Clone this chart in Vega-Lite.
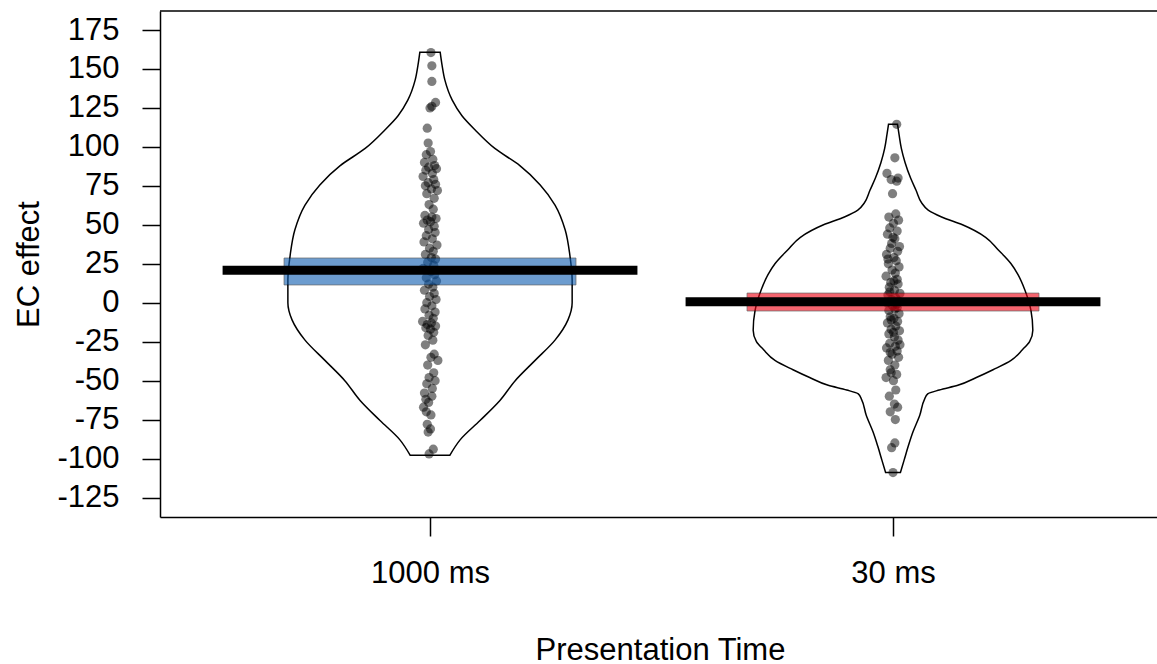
{
  "$schema": "https://vega.github.io/schema/vega-lite/v6.json",
  "autosize": "none",
  "padding": {"left": 160, "top": 11, "right": 0, "bottom": 147},
  "width": 997,
  "height": 506,
  "background": "white",
  "config": {
    "font": "Liberation Sans",
    "view": {"stroke": null},
    "axis": {"labelFont": "Liberation Sans", "labelFontSize": 31, "labelColor": "black", "titleFont": "Liberation Sans", "titleFontSize": 31, "titleFontWeight": "normal", "titleColor": "black", "tickColor": "black", "tickWidth": 1.5, "grid": false, "domain": true, "domainColor": "black", "domainWidth": 1.5}
  },
  "datasets": {
    "frame": [{"top": 187.2}],
    "pts": [
      {"g":1,"v":160.5,"j":0.002},{"g":1,"v":152,"j":0.004},{"g":1,"v":142,"j":0.004},{"g":1,"v":128.5,"j":0.012},{"g":1,"v":126,"j":0.004},{"g":1,"v":125,"j":0},{"g":1,"v":112,"j":-0.006},{"g":1,"v":102.5,"j":-0.004},{"g":1,"v":97,"j":0.001},{"g":1,"v":95,"j":-0.008},{"g":1,"v":92,"j":0.006},{"g":1,"v":90,"j":-0.012},{"g":1,"v":88,"j":0.010},{"g":1,"v":87,"j":-0.003},{"g":1,"v":86,"j":0.014},{"g":1,"v":85,"j":-0.009},{"g":1,"v":83,"j":0.005},{"g":1,"v":81,"j":-0.015},{"g":1,"v":79,"j":0.008},{"g":1,"v":77,"j":-0.004},{"g":1,"v":76,"j":0.012},{"g":1,"v":75,"j":-0.010},{"g":1,"v":73,"j":0.003},{"g":1,"v":72,"j":0.016},{"g":1,"v":70,"j":-0.007},{"g":1,"v":67,"j":0.009},{"g":1,"v":63,"j":-0.002},{"g":1,"v":60,"j":0.007},{"g":1,"v":56,"j":-0.011},{"g":1,"v":55,"j":0.004},{"g":1,"v":54,"j":0.013},{"g":1,"v":53,"j":-0.006},{"g":1,"v":52,"j":0.001},{"g":1,"v":51,"j":-0.014},{"g":1,"v":49,"j":0.009},{"g":1,"v":47,"j":-0.003},{"g":1,"v":45,"j":0.011},{"g":1,"v":43,"j":-0.008},{"g":1,"v":41,"j":0.005},{"g":1,"v":39,"j":-0.013},{"g":1,"v":37,"j":0.015},{"g":1,"v":35,"j":-0.001},{"g":1,"v":33,"j":0.007},{"g":1,"v":31,"j":-0.010},{"g":1,"v":29,"j":0.003},{"g":1,"v":28,"j":0.012},{"g":1,"v":26,"j":-0.005},{"g":1,"v":24,"j":0.008},{"g":1,"v":22,"j":-0.015},{"g":1,"v":20,"j":0.002},{"g":1,"v":18,"j":0.010},{"g":1,"v":16,"j":-0.008},{"g":1,"v":14,"j":0.014},{"g":1,"v":12,"j":-0.003},{"g":1,"v":10,"j":0.006},{"g":1,"v":8,"j":-0.012},{"g":1,"v":6,"j":0.009},{"g":1,"v":4,"j":-0.001},{"g":1,"v":2,"j":0.013},{"g":1,"v":0,"j":-0.007},{"g":1,"v":-2,"j":0.004},{"g":1,"v":-4,"j":-0.011},{"g":1,"v":-6,"j":0.011},{"g":1,"v":-8,"j":-0.002},{"g":1,"v":-10,"j":0.007},{"g":1,"v":-12,"j":-0.016},{"g":1,"v":-13,"j":0.003},{"g":1,"v":-14,"j":-0.006},{"g":1,"v":-15,"j":0.012},{"g":1,"v":-16,"j":-0.009},{"g":1,"v":-17,"j":0.001},{"g":1,"v":-19,"j":0.008},{"g":1,"v":-21,"j":-0.004},{"g":1,"v":-24,"j":0.006},{"g":1,"v":-27,"j":-0.010},{"g":1,"v":-33,"j":0.009},{"g":1,"v":-35,"j":0.002},{"g":1,"v":-37,"j":0.017},{"g":1,"v":-40,"j":-0.005},{"g":1,"v":-45,"j":0.008},{"g":1,"v":-48,"j":-0.002},{"g":1,"v":-50,"j":0.011},{"g":1,"v":-52,"j":-0.007},{"g":1,"v":-55,"j":0.005},{"g":1,"v":-58,"j":-0.012},{"g":1,"v":-60,"j":0.004},{"g":1,"v":-62,"j":-0.009},{"g":1,"v":-64,"j":-0.003},{"g":1,"v":-67,"j":-0.014},{"g":1,"v":-70,"j":-0.008},{"g":1,"v":-72,"j":0.002},{"g":1,"v":-78,"j":-0.006},{"g":1,"v":-81,"j":0.001},{"g":1,"v":-83,"j":-0.004},{"g":1,"v":-94,"j":0.007},{"g":1,"v":-97,"j":-0.002},
      {"g":2,"v":114.5,"j":0.008},{"g":2,"v":93,"j":0.004},{"g":2,"v":83,"j":-0.013},{"g":2,"v":80,"j":0.011},{"g":2,"v":79,"j":-0.004},{"g":2,"v":78,"j":0.008},{"g":2,"v":70,"j":-0.001},{"g":2,"v":57,"j":0.006},{"g":2,"v":55,"j":-0.009},{"g":2,"v":53,"j":0.012},{"g":2,"v":51,"j":0.001},{"g":2,"v":48,"j":-0.007},{"g":2,"v":46,"j":0.009},{"g":2,"v":44,"j":-0.012},{"g":2,"v":42,"j":0.0},{"g":2,"v":41,"j":0.004},{"g":2,"v":38,"j":-0.003},{"g":2,"v":36,"j":0.014},{"g":2,"v":35,"j":-0.006},{"g":2,"v":33,"j":0.010},{"g":2,"v":31,"j":-0.014},{"g":2,"v":29,"j":0.002},{"g":2,"v":28,"j":-0.011},{"g":2,"v":27,"j":0.007},{"g":2,"v":25,"j":-0.010},{"g":2,"v":23,"j":0.013},{"g":2,"v":21,"j":-0.002},{"g":2,"v":19,"j":0.005},{"g":2,"v":17,"j":-0.015},{"g":2,"v":15,"j":0.009},{"g":2,"v":14,"j":0.002},{"g":2,"v":13,"j":-0.005},{"g":2,"v":12,"j":0.011},{"g":2,"v":10,"j":-0.008},{"g":2,"v":8,"j":0.003},{"g":2,"v":7,"j":-0.007},{"g":2,"v":6,"j":0.015},{"g":2,"v":5,"j":-0.011},{"g":2,"v":3,"j":0.006},{"g":2,"v":2,"j":-0.003},{"g":2,"v":1,"j":0.012},{"g":2,"v":0,"j":-0.013},{"g":2,"v":-1,"j":0.008},{"g":2,"v":-2,"j":-0.001},{"g":2,"v":-3,"j":0.009},{"g":2,"v":-4,"j":0.004},{"g":2,"v":-5,"j":-0.009},{"g":2,"v":-7,"j":0.013},{"g":2,"v":-9,"j":-0.006},{"g":2,"v":-10,"j":0.002},{"g":2,"v":-11,"j":-0.004},{"g":2,"v":-12,"j":0.010},{"g":2,"v":-13,"j":-0.012},{"g":2,"v":-15,"j":0.006},{"g":2,"v":-17,"j":-0.004},{"g":2,"v":-18,"j":0.014},{"g":2,"v":-19,"j":0.001},{"g":2,"v":-20,"j":-0.009},{"g":2,"v":-22,"j":0.003},{"g":2,"v":-24,"j":0.011},{"g":2,"v":-26,"j":-0.007},{"g":2,"v":-27,"j":0.015},{"g":2,"v":-28,"j":0.005},{"g":2,"v":-29,"j":-0.014},{"g":2,"v":-31,"j":0.009},{"g":2,"v":-32,"j":-0.006},{"g":2,"v":-33,"j":-0.002},{"g":2,"v":-35,"j":0.012},{"g":2,"v":-37,"j":-0.010},{"g":2,"v":-40,"j":0.004},{"g":2,"v":-43,"j":-0.006},{"g":2,"v":-45,"j":-0.004},{"g":2,"v":-46,"j":0.008},{"g":2,"v":-48,"j":-0.015},{"g":2,"v":-50,"j":0.001},{"g":2,"v":-56,"j":0.006},{"g":2,"v":-60,"j":-0.008},{"g":2,"v":-65,"j":0.003},{"g":2,"v":-67,"j":0.010},{"g":2,"v":-70,"j":-0.006},{"g":2,"v":-75,"j":0.005},{"g":2,"v":-90,"j":0.004},{"g":2,"v":-93,"j":-0.003},{"g":2,"v":-109,"j":0.0}
    ],
    "bean": [
      {"g":1,"v":160.7,"w":0.022},{"g":1,"v":152.5,"w":0.026},{"g":1,"v":143,"w":0.032},{"g":1,"v":130,"w":0.048},{"g":1,"v":120,"w":0.069},{"g":1,"v":111,"w":0.097},{"g":1,"v":99,"w":0.140},{"g":1,"v":88,"w":0.194},{"g":1,"v":75.6,"w":0.238},{"g":1,"v":62.7,"w":0.270},{"g":1,"v":46.7,"w":0.292},{"g":1,"v":30.6,"w":0.302},{"g":1,"v":14.6,"w":0.307},{"g":1,"v":0,"w":0.307},{"g":1,"v":-11,"w":0.298},{"g":1,"v":-24,"w":0.270},{"g":1,"v":-37,"w":0.227},{"g":1,"v":-50,"w":0.184},{"g":1,"v":-62.7,"w":0.151},{"g":1,"v":-75.6,"w":0.108},{"g":1,"v":-88,"w":0.065},{"g":1,"v":-97.8,"w":0.043},
      {"g":2,"v":114.5,"w":0.0097},{"g":2,"v":108,"w":0.013},{"g":2,"v":99,"w":0.018},{"g":2,"v":90,"w":0.026},{"g":2,"v":80,"w":0.038},{"g":2,"v":72,"w":0.050},{"g":2,"v":64,"w":0.062},{"g":2,"v":59.4,"w":0.076},{"g":2,"v":55,"w":0.105},{"g":2,"v":50,"w":0.150},{"g":2,"v":42,"w":0.200},{"g":2,"v":34,"w":0.227},{"g":2,"v":25,"w":0.255},{"g":2,"v":18,"w":0.270},{"g":2,"v":8,"w":0.285},{"g":2,"v":-5,"w":0.298},{"g":2,"v":-17.6,"w":0.302},{"g":2,"v":-25,"w":0.295},{"g":2,"v":-30,"w":0.280},{"g":2,"v":-37,"w":0.255},{"g":2,"v":-43,"w":0.216},{"g":2,"v":-48,"w":0.180},{"g":2,"v":-53,"w":0.140},{"g":2,"v":-56,"w":0.100},{"g":2,"v":-58.5,"w":0.075},{"g":2,"v":-62,"w":0.068},{"g":2,"v":-72,"w":0.058},{"g":2,"v":-83,"w":0.043},{"g":2,"v":-92,"w":0.033},{"g":2,"v":-101,"w":0.024},{"g":2,"v":-109,"w":0.016}
    ],
    "summary": [
      {"g":1,"time":"1000 ms","mean":20.8,"lo":11.4,"hi":28.7},
      {"g":2,"time":"30 ms","mean":0.6,"lo":-5.3,"hi":6.2}
    ]
  },
  "layer": [
    {
      "mark": {"type": "rule", "color": "#bebebe", "strokeWidth": 3},
      "encoding": {"y": {"datum": 0, "type": "quantitative", "scale": {"domain": [-137.5, 187.2], "nice": false, "zero": false}}}
    },
    {
      "data": {"name": "frame"},
      "mark": {"type": "rule", "color": "black", "strokeWidth": 1.5},
      "encoding": {"y": {"field": "top", "type": "quantitative"}}
    },
    {
      "data": {"name": "bean"},
      "transform": [
        {"calculate": "datum.g - datum.w", "as": "left"},
        {"calculate": "datum.g + datum.w", "as": "right"}
      ],
      "mark": {"type": "area", "orient": "horizontal", "interpolate": "monotone", "fill": "white", "fillOpacity": 0, "stroke": "black", "strokeWidth": 1.5},
      "encoding": {
        "detail": {"field": "g"},
        "y": {"field": "v", "type": "quantitative"},
        "x": {"field": "left", "type": "quantitative"},
        "x2": {"field": "right"}
      }
    },
    {
      "data": {"name": "pts"},
      "transform": [{"calculate": "datum.g + datum.j", "as": "px"}],
      "mark": {"type": "circle", "color": "black", "opacity": 0.5, "size": 85},
      "encoding": {
        "x": {"field": "px", "type": "quantitative"},
        "y": {"field": "v", "type": "quantitative"}
      }
    },
    {
      "data": {"name": "summary"},
      "transform": [
        {"calculate": "datum.g - 0.3153", "as": "bl"},
        {"calculate": "datum.g + 0.3153", "as": "br"}
      ],
      "mark": {"type": "rect", "opacity": 0.6, "stroke": "black", "strokeWidth": 1, "strokeOpacity": 0.7},
      "encoding": {
        "x": {"field": "bl", "type": "quantitative"},
        "x2": {"field": "br"},
        "y": {"field": "lo", "type": "quantitative"},
        "y2": {"field": "hi"},
        "fill": {"field": "time", "type": "nominal", "scale": {"domain": ["1000 ms", "30 ms"], "range": ["#0C5BB0", "#EE0011"]}, "legend": null}
      }
    },
    {
      "data": {"name": "summary"},
      "transform": [
        {"calculate": "datum.g - 0.448", "as": "ml"},
        {"calculate": "datum.g + 0.448", "as": "mr"}
      ],
      "mark": {"type": "rule", "color": "black", "strokeWidth": 9, "strokeCap": "butt"},
      "encoding": {
        "x": {"field": "ml", "type": "quantitative", "scale": {"domain": [0.4168, 2.5702], "nice": false, "zero": false},
          "axis": {"values": [1, 2], "tickSize": 19, "labelPadding": 22, "labelExpr": "datum.value == 1 ? '1000 ms' : '30 ms'", "title": "Presentation Time", "titleY": 142, "titleX": 500, "titleBaseline": "alphabetic"}},
        "x2": {"field": "mr"},
        "y": {"field": "mean", "type": "quantitative",
          "axis": {"values": [-125, -100, -75, -50, -25, 0, 25, 50, 75, 100, 125, 150, 175], "tickSize": 18, "labelPadding": 23, "labelExpr": "toString(datum.value)", "title": "EC effect", "titleX": -122, "titleY": 253, "titleBaseline": "alphabetic", "titleAngle": -90, "titleAlign": "center"}}
      }
    }
  ]
}
